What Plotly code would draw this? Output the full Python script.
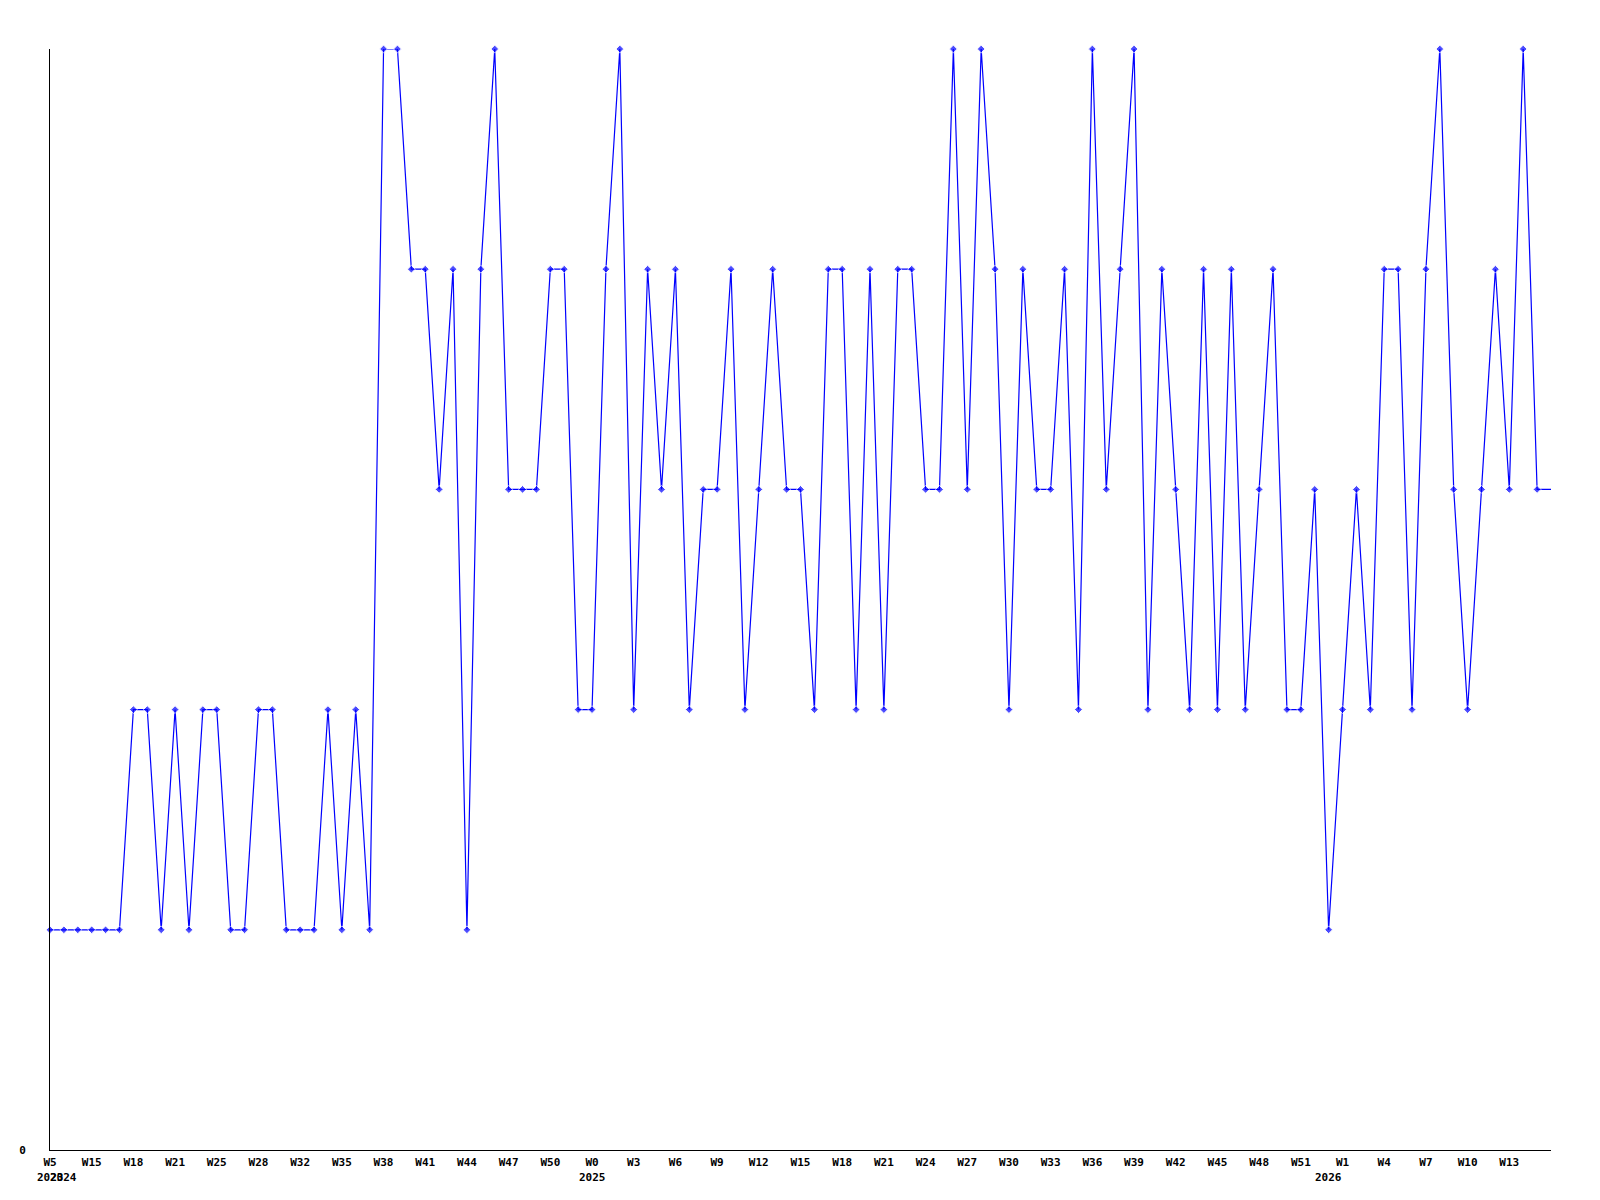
import plotly.graph_objects as go

# Weekly values (one per data point, in order)
values = [1, 1, 1, 1, 1, 1, 2, 2, 1, 2,
          1, 2, 2, 1, 1, 2, 2, 1, 1, 1,
          2, 1, 2, 1, 5, 5, 4, 4, 3, 4,
          1, 4, 5, 3, 3, 3, 4, 4, 2, 2,
          4, 5, 2, 4, 3, 4, 2, 3, 3, 4,
          2, 3, 4, 3, 3, 2, 4, 4, 2, 4,
          2, 4, 4, 3, 3, 5, 3, 5, 4, 2,
          4, 3, 3, 4, 2, 5, 3, 4, 5, 2,
          4, 3, 2, 4, 2, 4, 2, 3, 4, 2,
          2, 3, 1, 2, 3, 2, 4, 4, 2, 4,
          5, 3, 2, 3, 4, 3, 5, 3, 3]

# Week tick labels (every third point)
week_labels = ["W5", "W15", "W18", "W21", "W25", "W28", "W32", "W35", "W38",
               "W41", "W44", "W47", "W50", "W0", "W3", "W6", "W9", "W12",
               "W15", "W18", "W21", "W24", "W27", "W30", "W33", "W36", "W39",
               "W42", "W45", "W48", "W51", "W1", "W4", "W7", "W10", "W13"]

# Year labels and the point index where each year starts
year_labels = ["2023", "2024", "2025", "2026"]
year_points = [0, 1, 39, 92]

n = len(values)
xs = list(range(n))
tick_step = 3
tickvals = list(range(0, n, tick_step))[:len(week_labels)]

marker_sizes = [6] * n
marker_sizes[-1] = 0

FONT = "DejaVu Sans Mono"

fig = go.Figure()
fig.add_trace(go.Scatter(
    x=xs, y=values, mode="lines+markers",
    line=dict(color="#0000ff", width=1.2),
    marker=dict(symbol="diamond", size=marker_sizes, color="#0000ff"),
    hoverinfo="x+y", showlegend=False, cliponaxis=False,
))

for lab, idx in zip(year_labels, year_points):
    fig.add_annotation(
        x=idx, y=0, xref="x", yref="paper", text=lab, showarrow=False,
        xanchor="center", yanchor="middle", yshift=-27,
        font=dict(family=FONT, size=11, color="black", weight="bold"),
    )

fig.update_layout(
    width=1600, height=1200,
    margin=dict(l=42, r=57, t=41, b=58),
    paper_bgcolor="white", plot_bgcolor="white",
    xaxis=dict(
        range=[0, n - 1], showgrid=False, zeroline=False,
        showline=True, linecolor="black", linewidth=1,
        tickmode="array", tickvals=tickvals, ticktext=week_labels,
        ticks="", ticklabelstandoff=2, automargin=False,
        tickfont=dict(family=FONT, size=11, color="black", weight="bold"),
        fixedrange=True,
    ),
    yaxis=dict(
        range=[0, 5], showgrid=False, zeroline=False,
        showline=True, linecolor="black", linewidth=1,
        tickmode="array", tickvals=[0], ticktext=["0"],
        ticks="", ticklabelstandoff=21, automargin=False,
        tickfont=dict(family=FONT, size=11, color="black", weight="bold"),
        fixedrange=True,
    ),
)

fig.write_html("out.html")
